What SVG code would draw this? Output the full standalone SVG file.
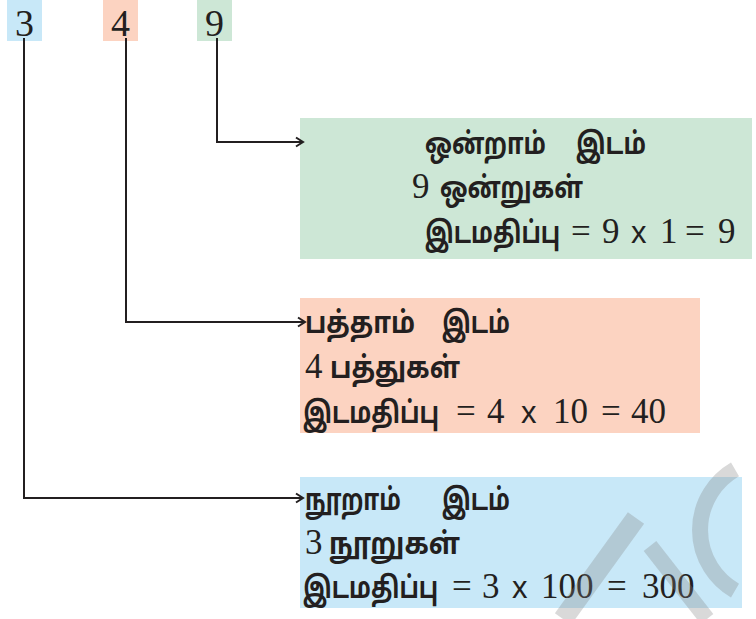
<svg xmlns="http://www.w3.org/2000/svg" width="756" height="619" viewBox="0 0 756 619">
<defs>
<style>
.ta{font-family:"Noto Sans Tamil","Lohit Tamil","Latha","Noto Sans",sans-serif;font-size:30px;font-weight:bold;fill:#231f20}
.nu{font-family:"Liberation Serif","Times New Roman",serif;font-size:35px;fill:#231f20}
.top{font-family:"Liberation Serif","Times New Roman",serif;font-size:38px;fill:#231f20}
.xx{font-family:"Liberation Sans",Arial,sans-serif;font-size:31px;fill:#231f20}
.ln{fill:none;stroke:#231f20;stroke-width:2}
.wm{fill:none;stroke:#808080;stroke-opacity:0.3}
</style>
<marker id="ah" markerWidth="12" markerHeight="12" refX="9" refY="6" orient="auto" markerUnits="userSpaceOnUse">
<path d="M2,1.5 L9,6 L2,10.5" fill="none" stroke="#231f20" stroke-width="2"/>
</marker>
</defs>
<rect width="756" height="619" fill="#ffffff"/>

<g id="digit-3"><rect x="7" y="0" width="35" height="41" fill="#c8e8f8"/><text class="top" x="24.5" y="36" text-anchor="middle">3</text></g>
<g id="digit-4"><rect x="103" y="0" width="35" height="41" fill="#fcd3c1"/><text class="top" x="120.5" y="36" text-anchor="middle">4</text></g>
<g id="digit-9"><rect x="197" y="0" width="35" height="41" fill="#cde7d6"/><text class="top" x="214.5" y="36" text-anchor="middle">9</text></g>

<g id="ones">
<rect x="300" y="118" width="452" height="141" fill="#cde7d6"/>
<text class="ta" x="425" y="154" textLength="121" lengthAdjust="spacingAndGlyphs">ஒன்றாம்</text>
<text class="ta" x="576" y="154" textLength="70" lengthAdjust="spacingAndGlyphs">இடம்</text>
<text class="nu" x="412" y="198">9</text>
<text class="ta" x="440" y="198" textLength="143" lengthAdjust="spacingAndGlyphs">ஒன்றுகள்</text>
<text class="ta" transform="translate(425,243) scale(0.8,1)" x="0" y="0" textLength="169" lengthAdjust="spacingAndGlyphs">இடமதிப்பு</text>
<text y="243"><tspan class="nu" x="571">=</tspan><tspan class="nu" x="602">9</tspan><tspan class="xx" x="631">x</tspan><tspan class="nu" x="660">1</tspan><tspan class="nu" x="685">=</tspan><tspan class="nu" x="718">9</tspan></text>
</g>

<g id="tens">
<rect x="300" y="298" width="400" height="135" fill="#fcd3c1"/>
<text class="ta" x="305" y="333" textLength="110" lengthAdjust="spacingAndGlyphs">பத்தாம்</text>
<text class="ta" x="442" y="333" textLength="68" lengthAdjust="spacingAndGlyphs">இடம்</text>
<text class="nu" x="305" y="378">4</text>
<text class="ta" x="330" y="378" textLength="130" lengthAdjust="spacingAndGlyphs">பத்துகள்</text>
<text class="ta" transform="translate(303,423) scale(0.8,1)" x="0" y="0" textLength="170" lengthAdjust="spacingAndGlyphs">இடமதிப்பு</text>
<text y="423"><tspan class="nu" x="456">=</tspan><tspan class="nu" x="487">4</tspan><tspan class="xx" x="521">x</tspan><tspan class="nu" x="553">10</tspan><tspan class="nu" x="601">=</tspan><tspan class="nu" x="631">40</tspan></text>
</g>

<g id="hundreds">
<rect x="300" y="477" width="442" height="131" fill="#c8e8f8"/>
<text class="ta" x="305" y="510" textLength="96" lengthAdjust="spacingAndGlyphs">நூறாம்</text>
<text class="ta" x="442" y="510" textLength="68" lengthAdjust="spacingAndGlyphs">இடம்</text>
<text class="nu" x="305" y="554">3</text>
<text class="ta" x="329" y="554" textLength="131" lengthAdjust="spacingAndGlyphs">நூறுகள்</text>
<text class="ta" transform="translate(303,598) scale(0.8,1)" x="0" y="0" textLength="169" lengthAdjust="spacingAndGlyphs">இடமதிப்பு</text>
<text y="598"><tspan class="nu" x="452">=</tspan><tspan class="nu" x="482">3</tspan><tspan class="xx" x="512">x</tspan><tspan class="nu" x="541">100</tspan><tspan class="nu" x="607">=</tspan><tspan class="nu" x="642">300</tspan></text>
</g>

<g id="connectors">
<path class="ln" d="M217,38 V142 H303" marker-end="url(#ah)"/>
<path class="ln" d="M126,38 V322 H305" marker-end="url(#ah)"/>
<path class="ln" d="M24,38 V498 H303" marker-end="url(#ah)"/>
</g>

<g id="watermark">
<path class="wm" stroke-width="16" d="M735,469.4 A70,70 0 0 0 735,590.6"/>
<path class="wm" stroke-width="20" d="M636,518 L563,619"/>
<path class="wm" stroke-width="16" d="M650,546 L707,619"/>
</g>
</svg>
